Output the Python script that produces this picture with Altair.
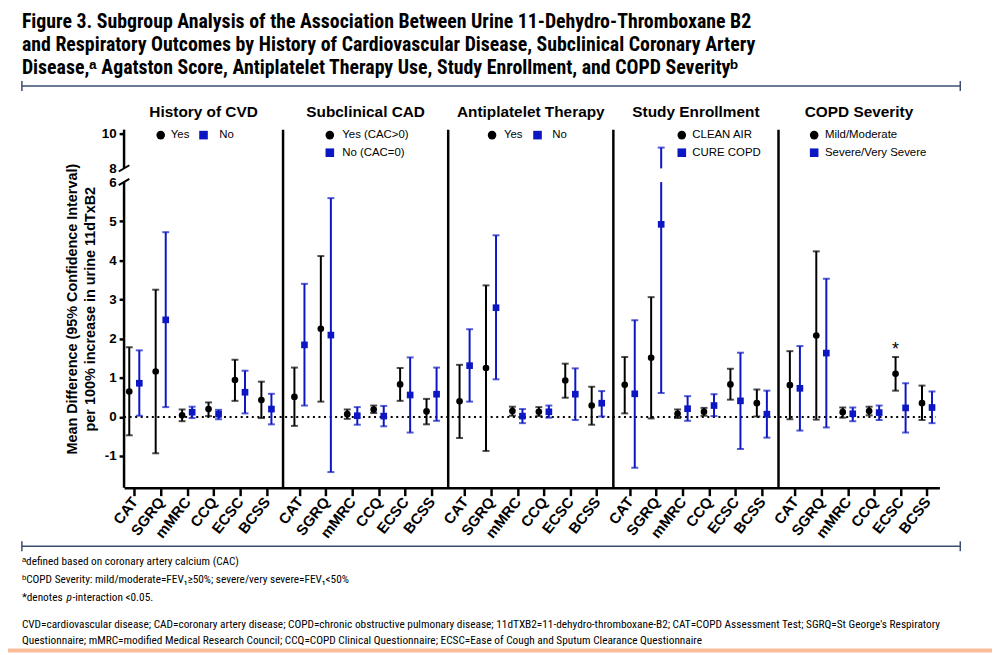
import json
import altair as alt
import pandas as pd

# ---------------- data ----------------
OUTCOMES = ["CAT", "SGRQ", "mMRC", "CCQ", "ECSC", "BCSS"]
PANELS = ["History of CVD", "Subclinical CAD", "Antiplatelet Therapy",
          "Study Enrollment", "COPD Severity"]
GROUP_A = ["Yes", "Yes (CAC>0)", "Yes", "CLEAN AIR", "Mild/Moderate"]
GROUP_B = ["No", "No (CAC=0)", "No", "CURE COPD", "Severe/Very Severe"]

cvd_yes_mean = [0.65, 1.16, 0.04, 0.20, 0.94, 0.43]
cvd_yes_lo = [-0.47, -0.93, -0.11, 0.02, 0.41, -0.03]
cvd_yes_hi = [1.78, 3.25, 0.19, 0.37, 1.46, 0.90]
cvd_no_mean = [0.86, 2.48, 0.12, 0.07, 0.63, 0.20]
cvd_no_lo = [0.03, 0.25, -0.03, -0.06, 0.09, -0.19]
cvd_no_hi = [1.70, 4.72, 0.26, 0.18, 1.18, 0.59]

cad_yes_mean = [0.51, 2.25, 0.07, 0.19, 0.83, 0.14]
cad_yes_lo = [-0.23, 0.39, -0.05, 0.10, 0.41, -0.19]
cad_yes_hi = [1.26, 4.11, 0.19, 0.29, 1.25, 0.46]
cad_no_mean = [1.84, 2.09, 0.03, 0.02, 0.56, 0.58]
cad_no_lo = [0.29, -1.41, -0.20, -0.24, -0.40, -0.10]
cad_no_hi = [3.40, 5.59, 0.25, 0.28, 1.52, 1.26]

anti_yes_mean = [0.40, 1.25, 0.15, 0.13, 0.93, 0.29]
anti_yes_lo = [-0.54, -0.87, 0.03, 0.02, 0.49, -0.20]
anti_yes_hi = [1.33, 3.36, 0.26, 0.25, 1.36, 0.77]
anti_no_mean = [1.31, 2.79, 0.02, 0.13, 0.58, 0.35]
anti_no_lo = [0.39, 0.96, -0.16, -0.02, -0.08, 0.01]
anti_no_hi = [2.24, 4.64, 0.20, 0.29, 1.24, 0.66]

study_clean_mean = [0.82, 1.51, 0.08, 0.13, 0.83, 0.35]
study_clean_lo = [0.09, -0.04, -0.03, 0.03, 0.44, 0.01]
study_clean_hi = [1.53, 3.06, 0.19, 0.23, 1.23, 0.70]
study_cure_mean = [0.59, 4.92, 0.21, 0.29, 0.41, 0.07]
study_cure_lo = [-1.30, 0.61, -0.10, 0.02, -0.82, -0.53]
study_cure_hi = [2.47, 9.20, 0.53, 0.58, 1.64, 0.67]

copd_mild_mean = [0.81, 2.08, 0.12, 0.15, 1.10, 0.35]
copd_mild_lo = [-0.06, -0.07, -0.02, 0.04, 0.67, -0.08]
copd_mild_hi = [1.68, 4.23, 0.24, 0.26, 1.53, 0.80]
copd_sev_mean = [0.73, 1.63, 0.08, 0.11, 0.23, 0.24]
copd_sev_lo = [-0.35, -0.27, -0.11, -0.08, -0.40, -0.16]
copd_sev_hi = [1.81, 3.53, 0.24, 0.29, 0.86, 0.65]

SIGNIFICANT = [("COPD Severity", "ECSC", "A")]   # p-interaction < 0.05

Y_TICKS = [-1, 0, 1, 2, 3, 4, 5, 6, 8, 10]

TITLE_LINES = [
    "Figure 3. Subgroup Analysis of the Association Between Urine 11-Dehydro-Thromboxane B2",
    "and Respiratory Outcomes by History of Cardiovascular Disease, Subclinical Coronary Artery",
    "Disease,\u1d43 Agatston Score, Antiplatelet Therapy Use, Study Enrollment, and COPD Severity\u1d47",
]
FOOT_LINES = [
    "\u1d43defined based on coronary artery calcium (CAC)",
    "\u1d47COPD Severity: mild/moderate=FEV\u2081\u226550%; severe/very severe=FEV\u2081<50%",
]
FOOT_P = ["*denotes", "p", "-interaction <0.05."]
ABBREV_LINES = [
    "CVD=cardiovascular disease; CAD=coronary artery disease; COPD=chronic obstructive pulmonary disease; 11dTXB2=11-dehydro-thromboxane-B2; CAT=COPD Assessment Test; SGRQ=St George's Respiratory",
    "Questionnaire; mMRC=modified Medical Research Council; CCQ=COPD Clinical Questionnaire; ECSC=Ease of Cough and Sputum Clearance Questionnaire",
]

SERIES = [
    (cvd_yes_mean, cvd_yes_lo, cvd_yes_hi, cvd_no_mean, cvd_no_lo, cvd_no_hi),
    (cad_yes_mean, cad_yes_lo, cad_yes_hi, cad_no_mean, cad_no_lo, cad_no_hi),
    (anti_yes_mean, anti_yes_lo, anti_yes_hi, anti_no_mean, anti_no_lo, anti_no_hi),
    (study_clean_mean, study_clean_lo, study_clean_hi, study_cure_mean, study_cure_lo, study_cure_hi),
    (copd_mild_mean, copd_mild_lo, copd_mild_hi, copd_sev_mean, copd_sev_lo, copd_sev_hi),
]

# ---------------- layout / style ----------------
BLACK = "#000000"
BLUE = "#0c16c2"
RULE_COLOR = "#3c4d70"
PEACH = "#f8bd98"
FONT = "Liberation Sans, Arial, sans-serif"
NARROW = "Liberation Sans Narrow, Arial Narrow, Roboto Condensed, Liberation Sans, sans-serif"

W, H = 822, 361
PANEL_STEP = 6.25
X_MIN, X_MAX = -0.387, 30.47
SEP_OFF = -0.62
PAIR_OFF = 0.19

BREAK_LO, BREAK_HI, BREAK_GAP, UPPER_SCALE = 6.0, 8.0, 0.35, 0.4425
Y_MIN_D, Y_MAX_D = -1.81, 7.34


def disp(v):
    """Broken-axis mapping: 0..6 linear, 8..10 compressed above a gap."""
    if v <= BREAK_LO:
        return v
    return BREAK_LO + BREAK_GAP + (v - BREAK_HI) * UPPER_SCALE


points, segs, caps = [], [], []
sig_rows = []
for p, (am, al, ah, bm, bl, bh) in enumerate(SERIES):
    for k, o in enumerate(OUTCOMES):
        for g, m, lo, hi, off in (("A", am[k], al[k], ah[k], -PAIR_OFF),
                                  ("B", bm[k], bl[k], bh[k], PAIR_OFF)):
            x = p * PANEL_STEP + k + off
            points.append(dict(x=x, y=disp(m), g=g, panel=PANELS[p], outcome=o))
            if hi > BREAK_HI:
                segs.append(dict(x=x, y=disp(lo), y2=disp(BREAK_LO), g=g))
                segs.append(dict(x=x, y=disp(BREAK_HI), y2=disp(hi), g=g))
            else:
                segs.append(dict(x=x, y=disp(lo), y2=disp(hi), g=g))
            caps.append(dict(x=x, y=disp(lo), g=g))
            caps.append(dict(x=x, y=disp(hi), g=g))
            if (PANELS[p], o, g) in SIGNIFICANT:
                sig_rows.append(dict(x=x, y=disp(hi), t="*"))

pts_df = pd.DataFrame(points)
seg_df = pd.DataFrame(segs)
cap_df = pd.DataFrame(caps)
sig_df = pd.DataFrame(sig_rows)

XS = alt.Scale(domain=[X_MIN, X_MAX], nice=False, zero=False)
YS = alt.Scale(domain=[Y_MIN_D, Y_MAX_D], nice=False, zero=False)
COLOR = alt.Scale(domain=["A", "B"], range=[BLACK, BLUE])
SHAPE = alt.Scale(domain=["A", "B"], range=["circle", "square"])

tick_vals = [p * PANEL_STEP + k for p in range(len(PANELS)) for k in range(len(OUTCOMES))]
x_label_expr = json.dumps(OUTCOMES) + f"[round(datum.value % {PANEL_STEP})]"
y_tick_disp = [disp(v) for v in Y_TICKS]
y_label_expr = (f"datum.value > {BREAK_LO + 0.1} ? toString(round({BREAK_HI} + (datum.value - {BREAK_LO + BREAK_GAP})/{UPPER_SCALE}))"
                " : toString(datum.value)")

x_axis = alt.Axis(values=tick_vals, labelExpr=x_label_expr, labelAngle=-52,
                  labelAlign="right", labelBaseline="middle", labelFontSize=15,
                  labelFontWeight="bold", labelFont=FONT, labelColor=BLACK, labelPadding=3,
                  tickSize=8, tickWidth=2.5, tickColor=BLACK, domainWidth=2.5,
                  domainColor=BLACK, grid=False, title=None, labelOverlap=False,
                  labelBound=False, labelFlush=False)
y_axis = alt.Axis(values=y_tick_disp, labelExpr=y_label_expr, labelFontSize=13.5,
                  labelFontWeight="bold", labelFont=FONT, labelColor=BLACK, labelPadding=3,
                  tickSize=5, tickWidth=2.5, tickColor=BLACK,
                  tickOpacity={"condition": {"test": f"datum.value > {BREAK_LO - 0.1} && datum.value < {BREAK_LO + BREAK_GAP + 0.1}", "value": 0}, "value": 1},
                  domain=False, grid=False, labelOverlap=False,
                  title=["Mean  Difference (95% Confidence Interval)",
                         "per 100% increase in urine 11dTxB2"],
                  titleFontSize=14.5, titleFontWeight="bold", titleFont=FONT,
                  titleColor=BLACK, titlePadding=4, titleLineHeight=18)


def xe(field="x:Q"):
    return alt.X(field, scale=XS, axis=x_axis)


def ye(field="y:Q"):
    return alt.Y(field, scale=YS, axis=y_axis)


pts = alt.Chart(pts_df).mark_point(filled=True, opacity=1, size=45).encode(
    x=xe(), y=ye(),
    color=alt.Color("g:N", scale=COLOR, legend=None),
    shape=alt.Shape("g:N", scale=SHAPE, legend=None),
)

bars = alt.Chart(seg_df).mark_rule(strokeWidth=2).encode(
    x=xe(), y=ye(), y2="y2:Q",
    color=alt.Color("g:N", scale=COLOR, legend=None))

cap_marks = alt.Chart(cap_df).mark_tick(orient="horizontal", size=7, thickness=2).encode(
    x=xe(), y=ye(),
    color=alt.Color("g:N", scale=COLOR, legend=None))

# panel separators
sep_x = [p * PANEL_STEP + SEP_OFF for p in range(1, len(PANELS))]
seps = alt.Chart(pd.DataFrame({"x": sep_x})).mark_rule(strokeWidth=2.5, color=BLACK).encode(
    x=xe(), y=alt.value(0), y2=alt.value(H))

# y axis line with break
axis_line = alt.Chart(pd.DataFrame({"x": [X_MIN, X_MIN],
                                    "y": [Y_MIN_D, disp(BREAK_HI)],
                                    "y2": [disp(BREAK_LO), Y_MAX_D]})).mark_rule(
    strokeWidth=2.5, color=BLACK).encode(x=xe(), y=ye(), y2="y2:Q")
slash_df = pd.DataFrame({"x": [X_MIN - 0.2] * 2, "x2": [X_MIN + 0.2] * 2,
                         "y": [disp(BREAK_LO) - 0.08, disp(BREAK_HI) - 0.08],
                         "y2": [disp(BREAK_LO) + 0.08, disp(BREAK_HI) + 0.08]})
slashes = alt.Chart(slash_df).mark_rule(strokeWidth=2, color=BLACK).encode(
    x=xe(), x2="x2:Q", y=ye(), y2="y2:Q")

zero = alt.Chart(pd.DataFrame({"x": [X_MIN], "x2": [X_MAX - 0.15], "y": [0]})).mark_rule(
    strokeWidth=2, strokeDash=[2, 3.6], color=BLACK).encode(x=xe(), x2="x2:Q", y=ye())

star = alt.Chart(sig_df).mark_text(fontSize=18, font=FONT, color=BLACK, baseline="alphabetic",
                                   dy=-2).encode(x=xe(), y=ye(), text="t:N")

# panel titles
edges = [X_MIN] + sep_x + [X_MAX]
centers = [(edges[i] + edges[i + 1]) / 2 for i in range(len(PANELS))]
ptitles = alt.Chart(pd.DataFrame({"x": centers, "t": PANELS})).mark_text(
    fontSize=15.5, fontWeight="bold", font=FONT, color=BLACK, baseline="middle").encode(
    x=xe(), y=alt.value(-18), text="t:N")

# legends (positions relative to panel start, display y)
LEGEND_POS = [
    dict(a=(1.00, 1.38, 7.20), b=(2.62, 3.22, 7.20)),
    dict(a=(1.15, 1.62, 7.20), b=(1.15, 1.62, 6.75)),
    dict(a=(1.04, 1.49, 7.20), b=(2.76, 3.32, 7.20)),
    dict(a=(1.97, 2.37, 7.20), b=(1.97, 2.37, 6.75)),
    dict(a=(0.73, 1.14, 7.20), b=(0.73, 1.14, 6.75)),
]
leg_m, leg_t = [], []
for p, pos in enumerate(LEGEND_POS):
    for g, labels in (("a", GROUP_A), ("b", GROUP_B)):
        mx, tx, yy = pos[g]
        leg_m.append(dict(x=p * PANEL_STEP + mx, y=yy, g=g.upper()))
        leg_t.append(dict(x=p * PANEL_STEP + tx, y=yy, t=labels[p]))
leg_marks = alt.Chart(pd.DataFrame(leg_m)).mark_point(filled=True, opacity=1, size=75).encode(
    x=xe(), y=ye(),
    color=alt.Color("g:N", scale=COLOR, legend=None),
    shape=alt.Shape("g:N", scale=SHAPE, legend=None))
leg_text = alt.Chart(pd.DataFrame(leg_t)).mark_text(
    fontSize=11.5, font=FONT, color=BLACK, align="left", baseline="middle").encode(
    x=xe(), y=ye(), text="t:N")

# header / footer decorations (pixel offsets from the plot origin)
deco = []
for i, line in enumerate(TITLE_LINES):
    deco.append(alt.Chart(pd.DataFrame({"t": [line]})).mark_text(
        fontSize=20, fontWeight="bold", font=NARROW, color=BLACK, align="left",
        baseline="alphabetic").encode(text="t:N", x=alt.value(-103), y=alt.value(-102 + 23 * i)))
for yv in (-44, 420):
    deco.append(alt.Chart(pd.DataFrame({"a": [0]})).mark_rule(color=RULE_COLOR, strokeWidth=1.5).encode(
        x=alt.value(-103), x2=alt.value(843), y=alt.value(yv)))
    for xv in (-103, 843):
        deco.append(alt.Chart(pd.DataFrame({"a": [0]})).mark_rule(color=RULE_COLOR, strokeWidth=1.5).encode(
            x=alt.value(xv), y=alt.value(yv - 5), y2=alt.value(yv + 5)))
for i, line in enumerate(FOOT_LINES):
    deco.append(alt.Chart(pd.DataFrame({"t": [line]})).mark_text(
        fontSize=11.4, font=NARROW, color=BLACK, align="left", baseline="alphabetic").encode(
        text="t:N", x=alt.value(-103), y=alt.value(439 + 18 * i)))
for part, xv, style in zip(FOOT_P, (-103, -58, -52), ("normal", "italic", "normal")):
    deco.append(alt.Chart(pd.DataFrame({"t": [part]})).mark_text(
        fontSize=11.4, font=NARROW, color=BLACK, align="left", baseline="alphabetic",
        fontStyle=style).encode(text="t:N", x=alt.value(xv), y=alt.value(475)))
for i, line in enumerate(ABBREV_LINES):
    deco.append(alt.Chart(pd.DataFrame({"t": [line]})).mark_text(
        fontSize=11.4, font=NARROW, color=BLACK, align="left", baseline="alphabetic").encode(
        text="t:N", x=alt.value(-103), y=alt.value(502 + 17 * i)))
deco.append(alt.Chart(pd.DataFrame({"a": [0]})).mark_rect(color=PEACH).encode(
    x=alt.value(-117), x2=alt.value(875), y=alt.value(523), y2=alt.value(527)))

chart = alt.layer(seps, axis_line, slashes, zero, bars, cap_marks, pts, star, ptitles,
                  leg_marks, leg_text, *deco).properties(
    width=W, height=H,
    autosize=alt.AutoSizeParams(type="none"),
    padding={"left": 117, "top": 120, "right": 53, "bottom": 166},
    background="white",
).configure_view(stroke=None).configure_axis(labelOverlap=False)

chart.save("out.html", embed_options={"renderer": "svg", "actions": False})
